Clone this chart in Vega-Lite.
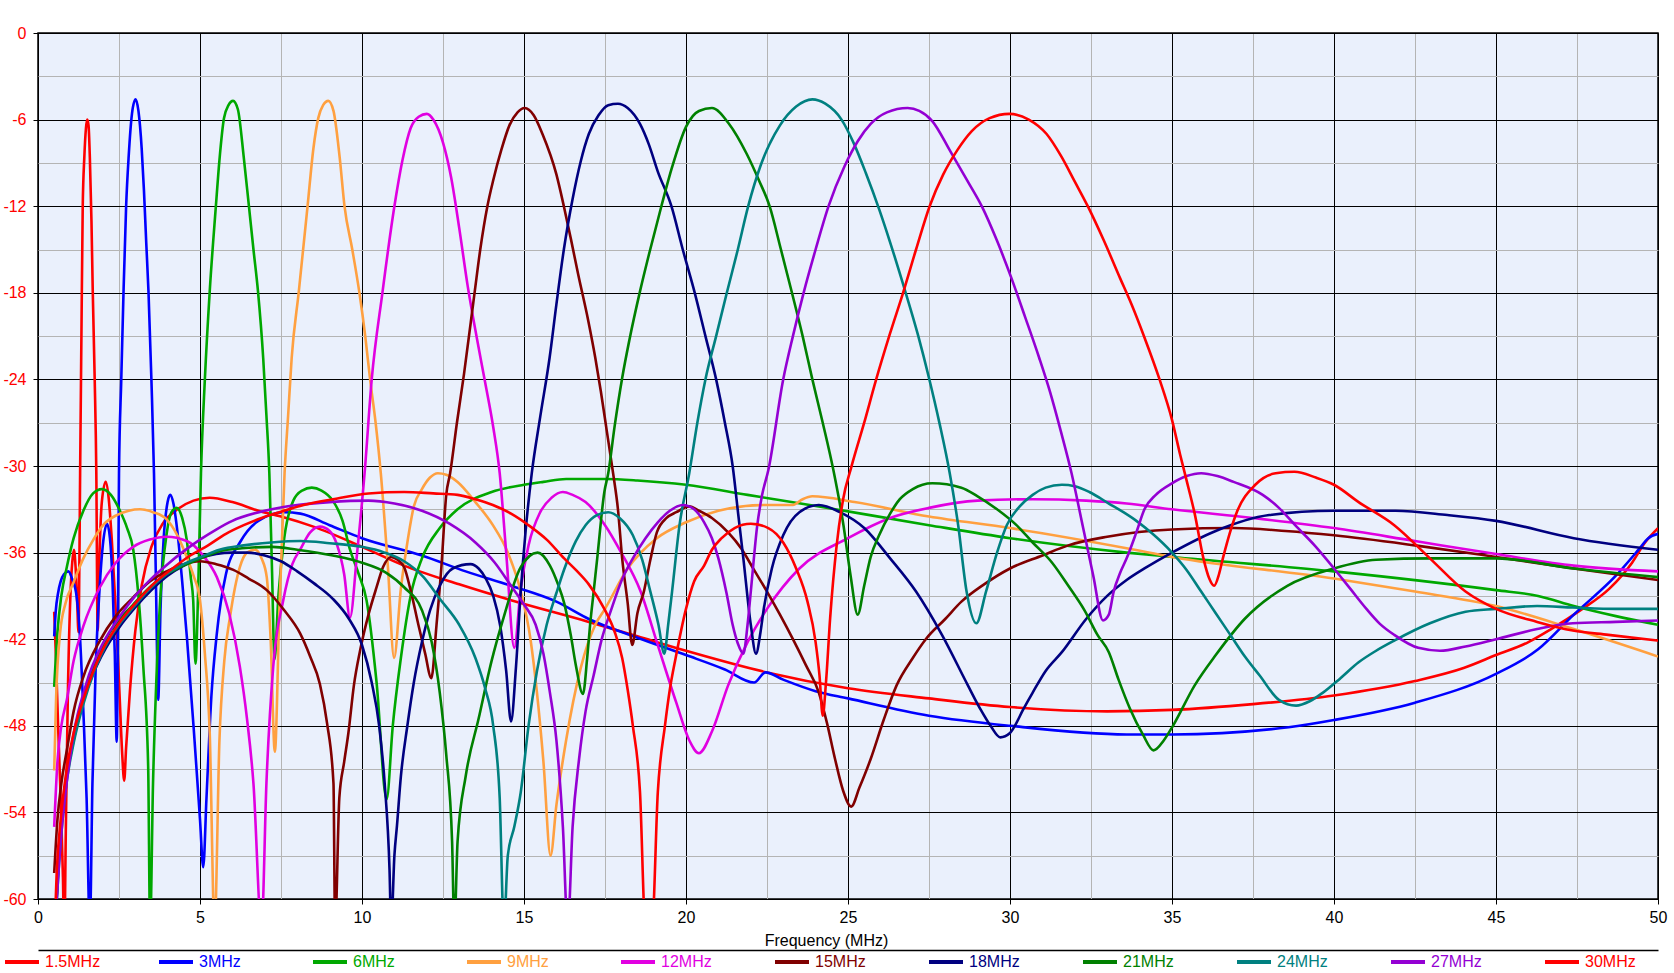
{
"$schema": "https://vega.github.io/schema/vega-lite/v6.json",
"width": 1620,
"height": 866,
"autosize": {"type": "none"},
"padding": {"left": 38, "top": 33, "right": 16, "bottom": 74},
"background": "#ffffff",
"config": {
  "font": "Liberation Sans",
  "view": {"fill": "#eaf0fc", "stroke": "#000000", "strokeWidth": 1.5},
  "axis": {"labelFont": "Liberation Sans", "labelFontSize": 16, "titleFont": "Liberation Sans", "titleFontSize": 16, "titleFontWeight": "normal", "domain": false, "labelFlush": false, "labelOverlap": false}
},
"data": {"values": [
{"s":"1.5MHz","f":0.5,"db":-40.1},{"s":"1.5MHz","f":0.55,"db":-43},{"s":"1.5MHz","f":0.62,"db":-48},{"s":"1.5MHz","f":0.7,"db":-53},{"s":"1.5MHz","f":0.77,"db":-58.5},{"s":"1.5MHz","f":0.81,"db":-63},{"s":"1.5MHz","f":0.86,"db":-55},{"s":"1.5MHz","f":0.92,"db":-46},{"s":"1.5MHz","f":1.0,"db":-39},{"s":"1.5MHz","f":1.06,"db":-36.6},{"s":"1.5MHz","f":1.11,"db":-35.8},{"s":"1.5MHz","f":1.16,"db":-37},{"s":"1.5MHz","f":1.21,"db":-39.5},{"s":"1.5MHz","f":1.25,"db":-41.5},{"s":"1.5MHz","f":1.28,"db":-36},{"s":"1.5MHz","f":1.3,"db":-30.5},{"s":"1.5MHz","f":1.34,"db":-21},{"s":"1.5MHz","f":1.38,"db":-12.1},{"s":"1.5MHz","f":1.43,"db":-8.6},{"s":"1.5MHz","f":1.48,"db":-6.6},{"s":"1.5MHz","f":1.52,"db":-6.0},{"s":"1.5MHz","f":1.56,"db":-6.4},{"s":"1.5MHz","f":1.6,"db":-8.6},{"s":"1.5MHz","f":1.65,"db":-13},{"s":"1.5MHz","f":1.69,"db":-17.9},{"s":"1.5MHz","f":1.75,"db":-24},{"s":"1.5MHz","f":1.8,"db":-30.5},{"s":"1.5MHz","f":1.84,"db":-41.4},{"s":"1.5MHz","f":1.9,"db":-36},{"s":"1.5MHz","f":1.97,"db":-32.5},{"s":"1.5MHz","f":2.09,"db":-31.1},{"s":"1.5MHz","f":2.18,"db":-32.2},{"s":"1.5MHz","f":2.28,"db":-35.2},{"s":"1.5MHz","f":2.4,"db":-40},{"s":"1.5MHz","f":2.52,"db":-46},{"s":"1.5MHz","f":2.6,"db":-50},{"s":"1.5MHz","f":2.66,"db":-51.8},{"s":"1.5MHz","f":2.72,"db":-49.5},{"s":"1.5MHz","f":2.84,"db":-45.5},{"s":"1.5MHz","f":3.0,"db":-41.5},{"s":"1.5MHz","f":3.2,"db":-38.3},{"s":"1.5MHz","f":3.5,"db":-35.6},{"s":"1.5MHz","f":3.85,"db":-34},{"s":"1.5MHz","f":4.3,"db":-33},{"s":"1.5MHz","f":4.8,"db":-32.4},{"s":"1.5MHz","f":5.3,"db":-32.2},{"s":"1.5MHz","f":6.0,"db":-32.5},{"s":"1.5MHz","f":6.8,"db":-33.1},{"s":"1.5MHz","f":7.5,"db":-33.5},{"s":"1.5MHz","f":8.5,"db":-34.2},{"s":"1.5MHz","f":10,"db":-35.6},{"s":"1.5MHz","f":11.3,"db":-36.9},{"s":"1.5MHz","f":13,"db":-38.2},{"s":"1.5MHz","f":14.6,"db":-39.3},{"s":"1.5MHz","f":17,"db":-40.8},{"s":"1.5MHz","f":18.5,"db":-41.8},{"s":"1.5MHz","f":20,"db":-42.8},{"s":"1.5MHz","f":22.5,"db":-44.3},{"s":"1.5MHz","f":25,"db":-45.4},{"s":"1.5MHz","f":27.5,"db":-46.1},{"s":"1.5MHz","f":30,"db":-46.7},{"s":"1.5MHz","f":33,"db":-47},{"s":"1.5MHz","f":35,"db":-46.9},{"s":"1.5MHz","f":37.5,"db":-46.5},{"s":"1.5MHz","f":40,"db":-45.9},{"s":"1.5MHz","f":42.5,"db":-44.9},{"s":"1.5MHz","f":44,"db":-44},{"s":"1.5MHz","f":45,"db":-43.1},{"s":"1.5MHz","f":46,"db":-42.2},{"s":"1.5MHz","f":46.7,"db":-41.3},{"s":"1.5MHz","f":47.6,"db":-40},{"s":"1.5MHz","f":48.5,"db":-38.5},{"s":"1.5MHz","f":49.2,"db":-36.7},{"s":"1.5MHz","f":49.6,"db":-35.3},{"s":"1.5MHz","f":50,"db":-34.3},
{"s":"3MHz","f":0.5,"db":-41.8},{"s":"3MHz","f":0.55,"db":-40},{"s":"3MHz","f":0.62,"db":-38.8},{"s":"3MHz","f":0.7,"db":-38},{"s":"3MHz","f":0.8,"db":-37.5},{"s":"3MHz","f":0.94,"db":-37.3},{"s":"3MHz","f":1.05,"db":-37.8},{"s":"3MHz","f":1.19,"db":-39},{"s":"3MHz","f":1.3,"db":-42},{"s":"3MHz","f":1.4,"db":-47},{"s":"3MHz","f":1.5,"db":-53},{"s":"3MHz","f":1.6,"db":-62},{"s":"3MHz","f":1.68,"db":-52},{"s":"3MHz","f":1.78,"db":-44},{"s":"3MHz","f":1.9,"db":-38.5},{"s":"3MHz","f":2.0,"db":-35.5},{"s":"3MHz","f":2.13,"db":-34},{"s":"3MHz","f":2.22,"db":-35},{"s":"3MHz","f":2.3,"db":-38},{"s":"3MHz","f":2.37,"db":-43},{"s":"3MHz","f":2.43,"db":-49.1},{"s":"3MHz","f":2.47,"db":-40},{"s":"3MHz","f":2.5,"db":-30.5},{"s":"3MHz","f":2.57,"db":-24},{"s":"3MHz","f":2.64,"db":-17.9},{"s":"3MHz","f":2.72,"db":-12},{"s":"3MHz","f":2.8,"db":-8.5},{"s":"3MHz","f":2.9,"db":-5.6},{"s":"3MHz","f":3.01,"db":-4.6},{"s":"3MHz","f":3.1,"db":-5.4},{"s":"3MHz","f":3.2,"db":-8},{"s":"3MHz","f":3.27,"db":-10.9},{"s":"3MHz","f":3.34,"db":-14.5},{"s":"3MHz","f":3.41,"db":-17.9},{"s":"3MHz","f":3.5,"db":-24},{"s":"3MHz","f":3.58,"db":-30.5},{"s":"3MHz","f":3.64,"db":-38},{"s":"3MHz","f":3.71,"db":-46.2},{"s":"3MHz","f":3.78,"db":-40},{"s":"3MHz","f":3.88,"db":-35},{"s":"3MHz","f":4.0,"db":-32.5},{"s":"3MHz","f":4.08,"db":-32},{"s":"3MHz","f":4.18,"db":-32.6},{"s":"3MHz","f":4.3,"db":-34.5},{"s":"3MHz","f":4.45,"db":-38},{"s":"3MHz","f":4.6,"db":-42},{"s":"3MHz","f":4.8,"db":-48},{"s":"3MHz","f":5.0,"db":-54.5},{"s":"3MHz","f":5.1,"db":-57.8},{"s":"3MHz","f":5.2,"db":-53},{"s":"3MHz","f":5.35,"db":-46},{"s":"3MHz","f":5.52,"db":-41.6},{"s":"3MHz","f":5.8,"db":-37.5},{"s":"3MHz","f":6.23,"db":-35.3},{"s":"3MHz","f":6.8,"db":-33.8},{"s":"3MHz","f":7.6,"db":-33.2},{"s":"3MHz","f":8.1,"db":-33.3},{"s":"3MHz","f":9,"db":-34.1},{"s":"3MHz","f":10,"db":-35},{"s":"3MHz","f":11.85,"db":-36.2},{"s":"3MHz","f":13.2,"db":-37.3},{"s":"3MHz","f":14.6,"db":-38.3},{"s":"3MHz","f":16,"db":-39.4},{"s":"3MHz","f":17,"db":-40.6},{"s":"3MHz","f":18.5,"db":-41.9},{"s":"3MHz","f":20,"db":-43.1},{"s":"3MHz","f":21.2,"db":-44.1},{"s":"3MHz","f":22.1,"db":-45},{"s":"3MHz","f":22.45,"db":-44.3},{"s":"3MHz","f":23,"db":-44.8},{"s":"3MHz","f":24,"db":-45.6},{"s":"3MHz","f":25,"db":-46.1},{"s":"3MHz","f":27.5,"db":-47.3},{"s":"3MHz","f":30,"db":-48},{"s":"3MHz","f":33.6,"db":-48.6},{"s":"3MHz","f":35,"db":-48.6},{"s":"3MHz","f":38.6,"db":-48.1},{"s":"3MHz","f":40,"db":-47.6},{"s":"3MHz","f":42.5,"db":-46.4},{"s":"3MHz","f":45,"db":-44.4},{"s":"3MHz","f":46.3,"db":-42.7},{"s":"3MHz","f":47.4,"db":-40.3},{"s":"3MHz","f":48.7,"db":-37.6},{"s":"3MHz","f":49.4,"db":-35.8},{"s":"3MHz","f":49.7,"db":-35},{"s":"3MHz","f":50,"db":-34.7},
{"s":"6MHz","f":0.5,"db":-45.3},{"s":"6MHz","f":0.6,"db":-41.5},{"s":"6MHz","f":0.72,"db":-39},{"s":"6MHz","f":0.89,"db":-37},{"s":"6MHz","f":1.1,"db":-35},{"s":"6MHz","f":1.4,"db":-33.1},{"s":"6MHz","f":1.7,"db":-31.9},{"s":"6MHz","f":1.97,"db":-31.6},{"s":"6MHz","f":2.25,"db":-32},{"s":"6MHz","f":2.53,"db":-33.1},{"s":"6MHz","f":2.75,"db":-34.3},{"s":"6MHz","f":2.94,"db":-35.8},{"s":"6MHz","f":3.1,"db":-39},{"s":"6MHz","f":3.25,"db":-43.9},{"s":"6MHz","f":3.4,"db":-50.8},{"s":"6MHz","f":3.46,"db":-62},{"s":"6MHz","f":3.55,"db":-52},{"s":"6MHz","f":3.65,"db":-45},{"s":"6MHz","f":3.77,"db":-39.3},{"s":"6MHz","f":3.97,"db":-34.7},{"s":"6MHz","f":4.12,"db":-33.2},{"s":"6MHz","f":4.28,"db":-32.9},{"s":"6MHz","f":4.45,"db":-33.6},{"s":"6MHz","f":4.59,"db":-35.1},{"s":"6MHz","f":4.72,"db":-37.8},{"s":"6MHz","f":4.79,"db":-39.3},{"s":"6MHz","f":4.86,"db":-43.7},{"s":"6MHz","f":4.95,"db":-38},{"s":"6MHz","f":5.03,"db":-30.5},{"s":"6MHz","f":5.15,"db":-24},{"s":"6MHz","f":5.3,"db":-17.9},{"s":"6MHz","f":5.49,"db":-12},{"s":"6MHz","f":5.6,"db":-8.8},{"s":"6MHz","f":5.74,"db":-5.9},{"s":"6MHz","f":5.88,"db":-5},{"s":"6MHz","f":6.02,"db":-4.7},{"s":"6MHz","f":6.17,"db":-5.3},{"s":"6MHz","f":6.35,"db":-8.6},{"s":"6MHz","f":6.51,"db":-12},{"s":"6MHz","f":6.65,"db":-15},{"s":"6MHz","f":6.79,"db":-17.9},{"s":"6MHz","f":6.95,"db":-22.5},{"s":"6MHz","f":7.05,"db":-26.5},{"s":"6MHz","f":7.14,"db":-30.5},{"s":"6MHz","f":7.22,"db":-37},{"s":"6MHz","f":7.3,"db":-43.4},{"s":"6MHz","f":7.42,"db":-39},{"s":"6MHz","f":7.6,"db":-35},{"s":"6MHz","f":7.88,"db":-32.4},{"s":"6MHz","f":8.15,"db":-31.7},{"s":"6MHz","f":8.45,"db":-31.5},{"s":"6MHz","f":8.75,"db":-31.7},{"s":"6MHz","f":9.1,"db":-32.4},{"s":"6MHz","f":9.4,"db":-33.8},{"s":"6MHz","f":9.63,"db":-35.8},{"s":"6MHz","f":9.9,"db":-37.5},{"s":"6MHz","f":10.14,"db":-39.3},{"s":"6MHz","f":10.45,"db":-45},{"s":"6MHz","f":10.76,"db":-53.1},{"s":"6MHz","f":10.95,"db":-48},{"s":"6MHz","f":11.2,"db":-43.3},{"s":"6MHz","f":11.5,"db":-39},{"s":"6MHz","f":11.85,"db":-36.4},{"s":"6MHz","f":12.4,"db":-34.3},{"s":"6MHz","f":12.95,"db":-33},{"s":"6MHz","f":14,"db":-31.8},{"s":"6MHz","f":15,"db":-31.3},{"s":"6MHz","f":15.6,"db":-31.1},{"s":"6MHz","f":16.3,"db":-30.9},{"s":"6MHz","f":17.5,"db":-30.9},{"s":"6MHz","f":18.5,"db":-31.0},{"s":"6MHz","f":20,"db":-31.3},{"s":"6MHz","f":21.9,"db":-32},{"s":"6MHz","f":24.1,"db":-32.8},{"s":"6MHz","f":27.5,"db":-34.1},{"s":"6MHz","f":30,"db":-35},{"s":"6MHz","f":33.6,"db":-36},{"s":"6MHz","f":35,"db":-36.3},{"s":"6MHz","f":40,"db":-37.3},{"s":"6MHz","f":45,"db":-38.6},{"s":"6MHz","f":46.3,"db":-39},{"s":"6MHz","f":47.4,"db":-39.7},{"s":"6MHz","f":48.7,"db":-40.4},{"s":"6MHz","f":50,"db":-41},
{"s":"9MHz","f":0.5,"db":-51.1},{"s":"9MHz","f":0.56,"db":-46},{"s":"9MHz","f":0.68,"db":-41.6},{"s":"9MHz","f":0.85,"db":-39.5},{"s":"9MHz","f":1.09,"db":-38.1},{"s":"9MHz","f":1.4,"db":-36.4},{"s":"9MHz","f":1.71,"db":-35.1},{"s":"9MHz","f":2.05,"db":-34},{"s":"9MHz","f":2.43,"db":-33.4},{"s":"9MHz","f":2.8,"db":-33.1},{"s":"9MHz","f":3.15,"db":-33},{"s":"9MHz","f":3.55,"db":-33.2},{"s":"9MHz","f":3.97,"db":-33.7},{"s":"9MHz","f":4.3,"db":-34.8},{"s":"9MHz","f":4.59,"db":-36.3},{"s":"9MHz","f":4.8,"db":-37.6},{"s":"9MHz","f":5.0,"db":-39.3},{"s":"9MHz","f":5.15,"db":-43},{"s":"9MHz","f":5.3,"db":-48.5},{"s":"9MHz","f":5.45,"db":-62},{"s":"9MHz","f":5.6,"db":-49},{"s":"9MHz","f":5.75,"db":-43.5},{"s":"9MHz","f":5.93,"db":-40.4},{"s":"9MHz","f":6.23,"db":-37},{"s":"9MHz","f":6.45,"db":-36},{"s":"9MHz","f":6.7,"db":-35.8},{"s":"9MHz","f":6.9,"db":-36.4},{"s":"9MHz","f":7.06,"db":-37.7},{"s":"9MHz","f":7.18,"db":-42},{"s":"9MHz","f":7.31,"db":-49.8},{"s":"9MHz","f":7.45,"db":-40},{"s":"9MHz","f":7.61,"db":-30.5},{"s":"9MHz","f":7.72,"db":-26.5},{"s":"9MHz","f":7.83,"db":-22.5},{"s":"9MHz","f":8.05,"db":-17.9},{"s":"9MHz","f":8.32,"db":-12},{"s":"9MHz","f":8.5,"db":-8},{"s":"9MHz","f":8.65,"db":-5.9},{"s":"9MHz","f":8.8,"db":-5},{"s":"9MHz","f":8.96,"db":-4.7},{"s":"9MHz","f":9.12,"db":-5.4},{"s":"9MHz","f":9.31,"db":-8.6},{"s":"9MHz","f":9.46,"db":-12},{"s":"9MHz","f":9.7,"db":-15},{"s":"9MHz","f":9.92,"db":-18},{"s":"9MHz","f":10.1,"db":-21},{"s":"9MHz","f":10.25,"db":-24},{"s":"9MHz","f":10.42,"db":-27},{"s":"9MHz","f":10.58,"db":-30.5},{"s":"9MHz","f":10.8,"db":-37},{"s":"9MHz","f":10.99,"db":-43.3},{"s":"9MHz","f":11.2,"db":-38.5},{"s":"9MHz","f":11.4,"db":-35.3},{"s":"9MHz","f":11.6,"db":-32.8},{"s":"9MHz","f":11.85,"db":-31.6},{"s":"9MHz","f":12.1,"db":-30.8},{"s":"9MHz","f":12.34,"db":-30.5},{"s":"9MHz","f":12.6,"db":-30.6},{"s":"9MHz","f":12.95,"db":-31.1},{"s":"9MHz","f":13.5,"db":-32.5},{"s":"9MHz","f":14.04,"db":-34.1},{"s":"9MHz","f":14.5,"db":-36},{"s":"9MHz","f":14.9,"db":-38.7},{"s":"9MHz","f":15.2,"db":-42},{"s":"9MHz","f":15.4,"db":-45.7},{"s":"9MHz","f":15.6,"db":-50.5},{"s":"9MHz","f":15.82,"db":-57},{"s":"9MHz","f":16.0,"db":-53.5},{"s":"9MHz","f":16.3,"db":-49},{"s":"9MHz","f":16.75,"db":-44},{"s":"9MHz","f":17.2,"db":-41},{"s":"9MHz","f":17.5,"db":-39.9},{"s":"9MHz","f":18.2,"db":-37.1},{"s":"9MHz","f":19.1,"db":-35},{"s":"9MHz","f":20,"db":-33.9},{"s":"9MHz","f":21,"db":-33.1},{"s":"9MHz","f":22.4,"db":-32.7},{"s":"9MHz","f":23.3,"db":-32.7},{"s":"9MHz","f":23.6,"db":-32.3},{"s":"9MHz","f":23.9,"db":-32.1},{"s":"9MHz","f":25.2,"db":-32.5},{"s":"9MHz","f":27.5,"db":-33.5},{"s":"9MHz","f":30,"db":-34.3},{"s":"9MHz","f":33.6,"db":-35.7},{"s":"9MHz","f":35,"db":-36.3},{"s":"9MHz","f":40,"db":-37.8},{"s":"9MHz","f":42.5,"db":-38.7},{"s":"9MHz","f":45,"db":-39.7},{"s":"9MHz","f":47.4,"db":-41.3},{"s":"9MHz","f":50,"db":-43.2},
{"s":"12MHz","f":0.5,"db":-55},{"s":"12MHz","f":0.6,"db":-50.5},{"s":"12MHz","f":0.72,"db":-48},{"s":"12MHz","f":0.89,"db":-46.2},{"s":"12MHz","f":1.1,"db":-43.5},{"s":"12MHz","f":1.4,"db":-41.1},{"s":"12MHz","f":1.91,"db":-38.4},{"s":"12MHz","f":2.4,"db":-36.7},{"s":"12MHz","f":2.94,"db":-35.6},{"s":"12MHz","f":3.45,"db":-35.1},{"s":"12MHz","f":3.97,"db":-34.9},{"s":"12MHz","f":4.59,"db":-35.2},{"s":"12MHz","f":5.1,"db":-36.2},{"s":"12MHz","f":5.52,"db":-37.7},{"s":"12MHz","f":5.9,"db":-40.2},{"s":"12MHz","f":6.23,"db":-43.9},{"s":"12MHz","f":6.45,"db":-47.5},{"s":"12MHz","f":6.65,"db":-52},{"s":"12MHz","f":6.9,"db":-62},{"s":"12MHz","f":7.05,"db":-52},{"s":"12MHz","f":7.26,"db":-43.9},{"s":"12MHz","f":7.57,"db":-39.3},{"s":"12MHz","f":7.85,"db":-36.8},{"s":"12MHz","f":8.09,"db":-35.8},{"s":"12MHz","f":8.4,"db":-34.6},{"s":"12MHz","f":8.7,"db":-34.2},{"s":"12MHz","f":9.0,"db":-34.5},{"s":"12MHz","f":9.22,"db":-35.4},{"s":"12MHz","f":9.45,"db":-37.5},{"s":"12MHz","f":9.63,"db":-40.5},{"s":"12MHz","f":9.85,"db":-36},{"s":"12MHz","f":10.08,"db":-30.5},{"s":"12MHz","f":10.3,"db":-24},{"s":"12MHz","f":10.63,"db":-18},{"s":"12MHz","f":11.0,"db":-12},{"s":"12MHz","f":11.25,"db":-8.8},{"s":"12MHz","f":11.5,"db":-6.6},{"s":"12MHz","f":11.75,"db":-5.8},{"s":"12MHz","f":12.0,"db":-5.6},{"s":"12MHz","f":12.2,"db":-6},{"s":"12MHz","f":12.5,"db":-7.6},{"s":"12MHz","f":12.75,"db":-10},{"s":"12MHz","f":13.0,"db":-13.5},{"s":"12MHz","f":13.26,"db":-17.5},{"s":"12MHz","f":13.55,"db":-21.2},{"s":"12MHz","f":13.8,"db":-24.2},{"s":"12MHz","f":14.05,"db":-27.3},{"s":"12MHz","f":14.25,"db":-30.5},{"s":"12MHz","f":14.45,"db":-36},{"s":"12MHz","f":14.7,"db":-42.6},{"s":"12MHz","f":14.9,"db":-38.5},{"s":"12MHz","f":15.14,"db":-35.5},{"s":"12MHz","f":15.5,"db":-33.2},{"s":"12MHz","f":15.85,"db":-32.2},{"s":"12MHz","f":16.2,"db":-31.8},{"s":"12MHz","f":16.5,"db":-32},{"s":"12MHz","f":16.9,"db":-32.5},{"s":"12MHz","f":17.5,"db":-34.1},{"s":"12MHz","f":18,"db":-36},{"s":"12MHz","f":18.6,"db":-38.7},{"s":"12MHz","f":19.1,"db":-42.2},{"s":"12MHz","f":19.7,"db":-46.4},{"s":"12MHz","f":20.1,"db":-49},{"s":"12MHz","f":20.4,"db":-49.9},{"s":"12MHz","f":20.8,"db":-48.4},{"s":"12MHz","f":21.3,"db":-45.2},{"s":"12MHz","f":21.9,"db":-42.2},{"s":"12MHz","f":22.5,"db":-39.9},{"s":"12MHz","f":23.5,"db":-37.1},{"s":"12MHz","f":25,"db":-35},{"s":"12MHz","f":26.3,"db":-33.6},{"s":"12MHz","f":27.5,"db":-32.9},{"s":"12MHz","f":29,"db":-32.4},{"s":"12MHz","f":30.7,"db":-32.3},{"s":"12MHz","f":32.35,"db":-32.4},{"s":"12MHz","f":33.6,"db":-32.6},{"s":"12MHz","f":35,"db":-33},{"s":"12MHz","f":37.5,"db":-33.6},{"s":"12MHz","f":40,"db":-34.3},{"s":"12MHz","f":42.5,"db":-35.2},{"s":"12MHz","f":45,"db":-36.1},{"s":"12MHz","f":47.4,"db":-36.9},{"s":"12MHz","f":50,"db":-37.3},
{"s":"15MHz","f":0.5,"db":-58.2},{"s":"15MHz","f":0.6,"db":-54.5},{"s":"15MHz","f":0.72,"db":-52},{"s":"15MHz","f":0.89,"db":-49.7},{"s":"15MHz","f":1.1,"db":-47},{"s":"15MHz","f":1.4,"db":-44.6},{"s":"15MHz","f":1.91,"db":-42.1},{"s":"15MHz","f":2.4,"db":-40.4},{"s":"15MHz","f":2.94,"db":-39.1},{"s":"15MHz","f":3.45,"db":-38},{"s":"15MHz","f":3.97,"db":-37.3},{"s":"15MHz","f":4.5,"db":-36.8},{"s":"15MHz","f":5.0,"db":-36.6},{"s":"15MHz","f":5.5,"db":-36.8},{"s":"15MHz","f":6.03,"db":-37.2},{"s":"15MHz","f":6.5,"db":-37.8},{"s":"15MHz","f":7.06,"db":-38.6},{"s":"15MHz","f":7.6,"db":-40},{"s":"15MHz","f":8.09,"db":-41.6},{"s":"15MHz","f":8.4,"db":-43.2},{"s":"15MHz","f":8.7,"db":-45.1},{"s":"15MHz","f":8.92,"db":-47.8},{"s":"15MHz","f":9.12,"db":-52},{"s":"15MHz","f":9.17,"db":-62},{"s":"15MHz","f":9.3,"db":-53},{"s":"15MHz","f":9.45,"db":-50.5},{"s":"15MHz","f":9.58,"db":-48.5},{"s":"15MHz","f":9.75,"db":-45.2},{"s":"15MHz","f":9.94,"db":-42.8},{"s":"15MHz","f":10.2,"db":-40.3},{"s":"15MHz","f":10.45,"db":-38.4},{"s":"15MHz","f":10.65,"db":-37},{"s":"15MHz","f":10.9,"db":-36.3},{"s":"15MHz","f":11.1,"db":-36.5},{"s":"15MHz","f":11.3,"db":-37},{"s":"15MHz","f":11.5,"db":-38.6},{"s":"15MHz","f":11.74,"db":-41},{"s":"15MHz","f":11.95,"db":-43},{"s":"15MHz","f":12.14,"db":-44.7},{"s":"15MHz","f":12.3,"db":-41},{"s":"15MHz","f":12.45,"db":-37},{"s":"15MHz","f":12.6,"db":-32},{"s":"15MHz","f":12.72,"db":-30.5},{"s":"15MHz","f":12.93,"db":-27},{"s":"15MHz","f":13.15,"db":-23.6},{"s":"15MHz","f":13.48,"db":-17.9},{"s":"15MHz","f":13.65,"db":-15},{"s":"15MHz","f":13.87,"db":-12},{"s":"15MHz","f":14.05,"db":-10.2},{"s":"15MHz","f":14.3,"db":-8.1},{"s":"15MHz","f":14.55,"db":-6.4},{"s":"15MHz","f":14.8,"db":-5.5},{"s":"15MHz","f":15.02,"db":-5.2},{"s":"15MHz","f":15.3,"db":-5.7},{"s":"15MHz","f":15.57,"db":-7},{"s":"15MHz","f":16.0,"db":-9.8},{"s":"15MHz","f":16.23,"db":-12},{"s":"15MHz","f":16.45,"db":-14.3},{"s":"15MHz","f":16.67,"db":-16.7},{"s":"15MHz","f":16.98,"db":-19.9},{"s":"15MHz","f":17.2,"db":-22.5},{"s":"15MHz","f":17.37,"db":-24.8},{"s":"15MHz","f":17.55,"db":-27.5},{"s":"15MHz","f":17.75,"db":-30.5},{"s":"15MHz","f":17.9,"db":-33},{"s":"15MHz","f":18.03,"db":-36.4},{"s":"15MHz","f":18.2,"db":-39.5},{"s":"15MHz","f":18.34,"db":-42.4},{"s":"15MHz","f":18.5,"db":-40.2},{"s":"15MHz","f":18.7,"db":-38.7},{"s":"15MHz","f":18.9,"db":-36.5},{"s":"15MHz","f":19.1,"db":-34.6},{"s":"15MHz","f":19.4,"db":-33.6},{"s":"15MHz","f":19.7,"db":-33.2},{"s":"15MHz","f":20.1,"db":-32.8},{"s":"15MHz","f":20.4,"db":-33.1},{"s":"15MHz","f":20.8,"db":-33.6},{"s":"15MHz","f":21.3,"db":-34.6},{"s":"15MHz","f":21.7,"db":-35.7},{"s":"15MHz","f":22.1,"db":-37.2},{"s":"15MHz","f":22.5,"db":-38.7},{"s":"15MHz","f":22.9,"db":-40.3},{"s":"15MHz","f":23.3,"db":-42},{"s":"15MHz","f":23.7,"db":-43.8},{"s":"15MHz","f":24.1,"db":-45.7},{"s":"15MHz","f":24.35,"db":-47.8},{"s":"15MHz","f":24.6,"db":-50.3},{"s":"15MHz","f":24.85,"db":-52.5},{"s":"15MHz","f":25.1,"db":-53.6},{"s":"15MHz","f":25.35,"db":-52.3},{"s":"15MHz","f":25.7,"db":-50.3},{"s":"15MHz","f":26.1,"db":-47.6},{"s":"15MHz","f":26.5,"db":-45.2},{"s":"15MHz","f":27.0,"db":-43.3},{"s":"15MHz","f":27.4,"db":-42},{"s":"15MHz","f":28,"db":-40.6},{"s":"15MHz","f":28.5,"db":-39.4},{"s":"15MHz","f":29.2,"db":-38.2},{"s":"15MHz","f":30,"db":-37.1},{"s":"15MHz","f":31,"db":-36.2},{"s":"15MHz","f":31.8,"db":-35.5},{"s":"15MHz","f":33,"db":-34.9},{"s":"15MHz","f":35,"db":-34.4},{"s":"15MHz","f":36.9,"db":-34.3},{"s":"15MHz","f":38.5,"db":-34.5},{"s":"15MHz","f":40,"db":-34.8},{"s":"15MHz","f":42.5,"db":-35.5},{"s":"15MHz","f":45,"db":-36.3},{"s":"15MHz","f":47.4,"db":-37.1},{"s":"15MHz","f":50,"db":-37.9},
{"s":"18MHz","f":0.5,"db":-63},{"s":"18MHz","f":0.62,"db":-58},{"s":"18MHz","f":0.8,"db":-53},{"s":"18MHz","f":1.1,"db":-49},{"s":"18MHz","f":1.5,"db":-45.6},{"s":"18MHz","f":2.0,"db":-43},{"s":"18MHz","f":2.5,"db":-41.2},{"s":"18MHz","f":3.0,"db":-39.8},{"s":"18MHz","f":3.5,"db":-38.6},{"s":"18MHz","f":4.0,"db":-37.6},{"s":"18MHz","f":4.5,"db":-36.9},{"s":"18MHz","f":5.0,"db":-36.4},{"s":"18MHz","f":5.5,"db":-36.1},{"s":"18MHz","f":6.0,"db":-36.0},{"s":"18MHz","f":6.46,"db":-36},{"s":"18MHz","f":7.0,"db":-36.2},{"s":"18MHz","f":7.5,"db":-36.6},{"s":"18MHz","f":8.0,"db":-37.3},{"s":"18MHz","f":8.5,"db":-38.1},{"s":"18MHz","f":9.1,"db":-39.2},{"s":"18MHz","f":9.6,"db":-40.6},{"s":"18MHz","f":10.0,"db":-42.4},{"s":"18MHz","f":10.3,"db":-45},{"s":"18MHz","f":10.53,"db":-48},{"s":"18MHz","f":10.7,"db":-52},{"s":"18MHz","f":10.85,"db":-58},{"s":"18MHz","f":10.9,"db":-62},{"s":"18MHz","f":11.0,"db":-57},{"s":"18MHz","f":11.08,"db":-54.9},{"s":"18MHz","f":11.2,"db":-51.5},{"s":"18MHz","f":11.4,"db":-48},{"s":"18MHz","f":11.6,"db":-45},{"s":"18MHz","f":11.85,"db":-42.2},{"s":"18MHz","f":12.1,"db":-40},{"s":"18MHz","f":12.4,"db":-38.3},{"s":"18MHz","f":12.8,"db":-37.1},{"s":"18MHz","f":13.35,"db":-36.8},{"s":"18MHz","f":13.6,"db":-37.1},{"s":"18MHz","f":13.82,"db":-37.8},{"s":"18MHz","f":14.05,"db":-39},{"s":"18MHz","f":14.26,"db":-41},{"s":"18MHz","f":14.45,"db":-44.2},{"s":"18MHz","f":14.6,"db":-47.7},{"s":"18MHz","f":14.75,"db":-44},{"s":"18MHz","f":14.9,"db":-38.7},{"s":"18MHz","f":15.05,"db":-34.5},{"s":"18MHz","f":15.24,"db":-30.5},{"s":"18MHz","f":15.5,"db":-26.6},{"s":"18MHz","f":15.79,"db":-22.5},{"s":"18MHz","f":16.0,"db":-18.8},{"s":"18MHz","f":16.23,"db":-15},{"s":"18MHz","f":16.5,"db":-11.5},{"s":"18MHz","f":16.75,"db":-8.9},{"s":"18MHz","f":17.0,"db":-7.0},{"s":"18MHz","f":17.3,"db":-5.7},{"s":"18MHz","f":17.6,"db":-5.0},{"s":"18MHz","f":17.9,"db":-4.9},{"s":"18MHz","f":18.2,"db":-5.2},{"s":"18MHz","f":18.58,"db":-6.3},{"s":"18MHz","f":18.85,"db":-7.7},{"s":"18MHz","f":19.13,"db":-9.6},{"s":"18MHz","f":19.55,"db":-12},{"s":"18MHz","f":19.9,"db":-15},{"s":"18MHz","f":20.27,"db":-18},{"s":"18MHz","f":20.6,"db":-21},{"s":"18MHz","f":20.93,"db":-24},{"s":"18MHz","f":21.2,"db":-27},{"s":"18MHz","f":21.44,"db":-30},{"s":"18MHz","f":21.62,"db":-33.5},{"s":"18MHz","f":21.77,"db":-36.4},{"s":"18MHz","f":22.0,"db":-41},{"s":"18MHz","f":22.16,"db":-43},{"s":"18MHz","f":22.3,"db":-41.5},{"s":"18MHz","f":22.4,"db":-39.9},{"s":"18MHz","f":22.65,"db":-37.1},{"s":"18MHz","f":23.0,"db":-34.8},{"s":"18MHz","f":23.5,"db":-33.2},{"s":"18MHz","f":24.1,"db":-32.7},{"s":"18MHz","f":24.75,"db":-33.2},{"s":"18MHz","f":25.5,"db":-34.3},{"s":"18MHz","f":26.3,"db":-36.4},{"s":"18MHz","f":27.1,"db":-38.7},{"s":"18MHz","f":27.9,"db":-41.7},{"s":"18MHz","f":28.7,"db":-45.2},{"s":"18MHz","f":29.1,"db":-46.9},{"s":"18MHz","f":29.4,"db":-48},{"s":"18MHz","f":29.7,"db":-48.8},{"s":"18MHz","f":30.0,"db":-48.5},{"s":"18MHz","f":30.15,"db":-48},{"s":"18MHz","f":30.4,"db":-46.9},{"s":"18MHz","f":30.7,"db":-45.7},{"s":"18MHz","f":31.1,"db":-44.2},{"s":"18MHz","f":31.6,"db":-42.9},{"s":"18MHz","f":32.35,"db":-40.6},{"s":"18MHz","f":33,"db":-39},{"s":"18MHz","f":33.6,"db":-37.9},{"s":"18MHz","f":34.15,"db":-37.1},{"s":"18MHz","f":35,"db":-36},{"s":"18MHz","f":36.35,"db":-34.5},{"s":"18MHz","f":38,"db":-33.4},{"s":"18MHz","f":40,"db":-33.1},{"s":"18MHz","f":41.9,"db":-33.1},{"s":"18MHz","f":43.5,"db":-33.4},{"s":"18MHz","f":45,"db":-33.8},{"s":"18MHz","f":47.4,"db":-35},{"s":"18MHz","f":50,"db":-35.8},
{"s":"21MHz","f":0.5,"db":-63},{"s":"21MHz","f":0.65,"db":-57},{"s":"21MHz","f":0.85,"db":-52},{"s":"21MHz","f":1.1,"db":-48.8},{"s":"21MHz","f":1.4,"db":-46.2},{"s":"21MHz","f":1.74,"db":-43.8},{"s":"21MHz","f":2.2,"db":-41.6},{"s":"21MHz","f":2.94,"db":-39.6},{"s":"21MHz","f":3.5,"db":-38.3},{"s":"21MHz","f":3.97,"db":-37.5},{"s":"21MHz","f":4.5,"db":-36.9},{"s":"21MHz","f":5.03,"db":-36.4},{"s":"21MHz","f":5.6,"db":-35.9},{"s":"21MHz","f":6.3,"db":-35.7},{"s":"21MHz","f":7.23,"db":-35.6},{"s":"21MHz","f":8.0,"db":-35.8},{"s":"21MHz","f":9.1,"db":-36.2},{"s":"21MHz","f":10.0,"db":-36.7},{"s":"21MHz","f":10.75,"db":-37.4},{"s":"21MHz","f":11.3,"db":-38.4},{"s":"21MHz","f":11.85,"db":-40},{"s":"21MHz","f":12.15,"db":-42.2},{"s":"21MHz","f":12.4,"db":-45.7},{"s":"21MHz","f":12.6,"db":-50},{"s":"21MHz","f":12.78,"db":-56},{"s":"21MHz","f":12.85,"db":-62},{"s":"21MHz","f":12.95,"db":-56},{"s":"21MHz","f":13.2,"db":-51.5},{"s":"21MHz","f":13.6,"db":-47.5},{"s":"21MHz","f":14.0,"db":-43.5},{"s":"21MHz","f":14.37,"db":-40.5},{"s":"21MHz","f":14.9,"db":-37},{"s":"21MHz","f":15.42,"db":-36},{"s":"21MHz","f":15.8,"db":-36.9},{"s":"21MHz","f":16.05,"db":-38.2},{"s":"21MHz","f":16.24,"db":-39.5},{"s":"21MHz","f":16.45,"db":-41.8},{"s":"21MHz","f":16.6,"db":-43.8},{"s":"21MHz","f":16.82,"db":-45.8},{"s":"21MHz","f":16.95,"db":-43.3},{"s":"21MHz","f":17.04,"db":-41},{"s":"21MHz","f":17.15,"db":-38.7},{"s":"21MHz","f":17.26,"db":-36.4},{"s":"21MHz","f":17.48,"db":-31.8},{"s":"21MHz","f":17.6,"db":-30.5},{"s":"21MHz","f":17.8,"db":-27.2},{"s":"21MHz","f":18.03,"db":-23.9},{"s":"21MHz","f":18.25,"db":-21.3},{"s":"21MHz","f":18.58,"db":-17.9},{"s":"21MHz","f":18.85,"db":-15.4},{"s":"21MHz","f":19.24,"db":-12},{"s":"21MHz","f":19.57,"db":-9.3},{"s":"21MHz","f":20.0,"db":-6.5},{"s":"21MHz","f":20.4,"db":-5.4},{"s":"21MHz","f":20.8,"db":-5.2},{"s":"21MHz","f":21.33,"db":-6.3},{"s":"21MHz","f":21.88,"db":-8.4},{"s":"21MHz","f":22.25,"db":-10.2},{"s":"21MHz","f":22.58,"db":-12},{"s":"21MHz","f":22.93,"db":-15},{"s":"21MHz","f":23.27,"db":-18},{"s":"21MHz","f":23.6,"db":-21},{"s":"21MHz","f":23.9,"db":-24},{"s":"21MHz","f":24.22,"db":-27},{"s":"21MHz","f":24.55,"db":-30.3},{"s":"21MHz","f":24.86,"db":-34.1},{"s":"21MHz","f":25.08,"db":-37.6},{"s":"21MHz","f":25.3,"db":-40.3},{"s":"21MHz","f":25.5,"db":-38.3},{"s":"21MHz","f":25.7,"db":-36.3},{"s":"21MHz","f":25.96,"db":-34.8},{"s":"21MHz","f":26.3,"db":-33.3},{"s":"21MHz","f":26.6,"db":-32.3},{"s":"21MHz","f":27.0,"db":-31.6},{"s":"21MHz","f":27.6,"db":-31.2},{"s":"21MHz","f":28.5,"db":-31.5},{"s":"21MHz","f":29.0,"db":-32.1},{"s":"21MHz","f":29.6,"db":-33},{"s":"21MHz","f":30.2,"db":-34.1},{"s":"21MHz","f":30.7,"db":-35.3},{"s":"21MHz","f":31.3,"db":-36.7},{"s":"21MHz","f":31.8,"db":-38.3},{"s":"21MHz","f":32.3,"db":-40},{"s":"21MHz","f":32.7,"db":-41.7},{"s":"21MHz","f":33.05,"db":-42.9},{"s":"21MHz","f":33.35,"db":-44.8},{"s":"21MHz","f":33.7,"db":-46.8},{"s":"21MHz","f":34.1,"db":-48.6},{"s":"21MHz","f":34.43,"db":-49.7},{"s":"21MHz","f":34.75,"db":-49},{"s":"21MHz","f":35.03,"db":-48},{"s":"21MHz","f":35.7,"db":-45.2},{"s":"21MHz","f":36.35,"db":-43.1},{"s":"21MHz","f":37.24,"db":-40.6},{"s":"21MHz","f":38.56,"db":-38.3},{"s":"21MHz","f":40,"db":-37.1},{"s":"21MHz","f":41.3,"db":-36.5},{"s":"21MHz","f":43,"db":-36.4},{"s":"21MHz","f":45,"db":-36.4},{"s":"21MHz","f":47.4,"db":-37.1},{"s":"21MHz","f":50,"db":-37.7},
{"s":"24MHz","f":0.5,"db":-63},{"s":"24MHz","f":0.65,"db":-57.5},{"s":"24MHz","f":0.85,"db":-52.5},{"s":"24MHz","f":1.1,"db":-49.2},{"s":"24MHz","f":1.4,"db":-46.5},{"s":"24MHz","f":1.74,"db":-44.2},{"s":"24MHz","f":2.2,"db":-42},{"s":"24MHz","f":2.94,"db":-39.8},{"s":"24MHz","f":3.5,"db":-38.4},{"s":"24MHz","f":3.97,"db":-37.5},{"s":"24MHz","f":4.5,"db":-36.8},{"s":"24MHz","f":5.03,"db":-36.3},{"s":"24MHz","f":5.6,"db":-35.8},{"s":"24MHz","f":6.35,"db":-35.5},{"s":"24MHz","f":7.2,"db":-35.3},{"s":"24MHz","f":8.1,"db":-35.2},{"s":"24MHz","f":9.0,"db":-35.35},{"s":"24MHz","f":10.0,"db":-35.6},{"s":"24MHz","f":10.7,"db":-36},{"s":"24MHz","f":11.3,"db":-36.6},{"s":"24MHz","f":11.9,"db":-37.7},{"s":"24MHz","f":12.4,"db":-39.2},{"s":"24MHz","f":13.0,"db":-41},{"s":"24MHz","f":13.5,"db":-43.3},{"s":"24MHz","f":13.8,"db":-45.4},{"s":"24MHz","f":14.05,"db":-48},{"s":"24MHz","f":14.25,"db":-53},{"s":"24MHz","f":14.38,"db":-62},{"s":"24MHz","f":14.5,"db":-57},{"s":"24MHz","f":14.7,"db":-55},{"s":"24MHz","f":14.9,"db":-52.6},{"s":"24MHz","f":15.14,"db":-48},{"s":"24MHz","f":15.4,"db":-44.2},{"s":"24MHz","f":15.7,"db":-41},{"s":"24MHz","f":16.0,"db":-38.8},{"s":"24MHz","f":16.25,"db":-37.1},{"s":"24MHz","f":16.6,"db":-35.2},{"s":"24MHz","f":16.9,"db":-34.1},{"s":"24MHz","f":17.25,"db":-33.4},{"s":"24MHz","f":17.6,"db":-33.2},{"s":"24MHz","f":17.95,"db":-33.6},{"s":"24MHz","f":18.36,"db":-34.8},{"s":"24MHz","f":18.65,"db":-36.5},{"s":"24MHz","f":18.9,"db":-38.7},{"s":"24MHz","f":19.15,"db":-41},{"s":"24MHz","f":19.33,"db":-43},{"s":"24MHz","f":19.45,"db":-41},{"s":"24MHz","f":19.57,"db":-38.7},{"s":"24MHz","f":19.8,"db":-34.1},{"s":"24MHz","f":20.1,"db":-30.5},{"s":"24MHz","f":20.35,"db":-27},{"s":"24MHz","f":20.6,"db":-24},{"s":"24MHz","f":20.93,"db":-21},{"s":"24MHz","f":21.26,"db":-18},{"s":"24MHz","f":21.6,"db":-15},{"s":"24MHz","f":21.92,"db":-12},{"s":"24MHz","f":22.3,"db":-9.2},{"s":"24MHz","f":22.9,"db":-6.4},{"s":"24MHz","f":23.4,"db":-5.1},{"s":"24MHz","f":23.9,"db":-4.6},{"s":"24MHz","f":24.3,"db":-4.9},{"s":"24MHz","f":24.8,"db":-6},{"s":"24MHz","f":25.19,"db":-7.7},{"s":"24MHz","f":25.55,"db":-9.7},{"s":"24MHz","f":25.96,"db":-12.2},{"s":"24MHz","f":26.3,"db":-14.5},{"s":"24MHz","f":26.7,"db":-17.4},{"s":"24MHz","f":27.17,"db":-21},{"s":"24MHz","f":27.5,"db":-23.9},{"s":"24MHz","f":27.83,"db":-27.1},{"s":"24MHz","f":28.14,"db":-30.5},{"s":"24MHz","f":28.4,"db":-34.1},{"s":"24MHz","f":28.66,"db":-38.7},{"s":"24MHz","f":28.96,"db":-40.9},{"s":"24MHz","f":29.26,"db":-38.7},{"s":"24MHz","f":29.6,"db":-36},{"s":"24MHz","f":29.9,"db":-34.1},{"s":"24MHz","f":30.3,"db":-32.8},{"s":"24MHz","f":30.7,"db":-32},{"s":"24MHz","f":31.1,"db":-31.5},{"s":"24MHz","f":31.6,"db":-31.3},{"s":"24MHz","f":32.0,"db":-31.4},{"s":"24MHz","f":32.45,"db":-31.8},{"s":"24MHz","f":33.05,"db":-32.6},{"s":"24MHz","f":33.5,"db":-33.2},{"s":"24MHz","f":33.9,"db":-33.8},{"s":"24MHz","f":34.4,"db":-34.7},{"s":"24MHz","f":35,"db":-36},{"s":"24MHz","f":35.45,"db":-37.2},{"s":"24MHz","f":35.9,"db":-38.7},{"s":"24MHz","f":36.35,"db":-40.2},{"s":"24MHz","f":36.8,"db":-41.7},{"s":"24MHz","f":37.25,"db":-43.2},{"s":"24MHz","f":37.7,"db":-44.5},{"s":"24MHz","f":38.3,"db":-46.2},{"s":"24MHz","f":38.83,"db":-46.6},{"s":"24MHz","f":39.25,"db":-46.3},{"s":"24MHz","f":39.66,"db":-45.7},{"s":"24MHz","f":40.2,"db":-44.7},{"s":"24MHz","f":40.76,"db":-43.6},{"s":"24MHz","f":41.3,"db":-42.8},{"s":"24MHz","f":41.86,"db":-42.1},{"s":"24MHz","f":42.96,"db":-40.9},{"s":"24MHz","f":44.06,"db":-40.1},{"s":"24MHz","f":45,"db":-39.9},{"s":"24MHz","f":46.27,"db":-39.7},{"s":"24MHz","f":47.37,"db":-39.8},{"s":"24MHz","f":48.7,"db":-39.9},{"s":"24MHz","f":50,"db":-39.9},
{"s":"27MHz","f":0.5,"db":-63},{"s":"27MHz","f":0.7,"db":-56},{"s":"27MHz","f":1.0,"db":-50},{"s":"27MHz","f":1.5,"db":-45},{"s":"27MHz","f":2.0,"db":-42.3},{"s":"27MHz","f":2.5,"db":-40.5},{"s":"27MHz","f":3.0,"db":-39},{"s":"27MHz","f":3.5,"db":-37.8},{"s":"27MHz","f":4.0,"db":-36.8},{"s":"27MHz","f":4.5,"db":-35.9},{"s":"27MHz","f":5.0,"db":-35.1},{"s":"27MHz","f":5.5,"db":-34.4},{"s":"27MHz","f":6.0,"db":-33.8},{"s":"27MHz","f":7.0,"db":-33.1},{"s":"27MHz","f":8.0,"db":-32.7},{"s":"27MHz","f":9.0,"db":-32.5},{"s":"27MHz","f":10.2,"db":-32.4},{"s":"27MHz","f":11.0,"db":-32.6},{"s":"27MHz","f":11.85,"db":-33.1},{"s":"27MHz","f":12.7,"db":-34},{"s":"27MHz","f":13.5,"db":-35.3},{"s":"27MHz","f":14.1,"db":-36.7},{"s":"27MHz","f":14.6,"db":-38.3},{"s":"27MHz","f":15.0,"db":-39.6},{"s":"27MHz","f":15.36,"db":-41},{"s":"27MHz","f":15.6,"db":-43},{"s":"27MHz","f":15.8,"db":-45.7},{"s":"27MHz","f":16.0,"db":-49},{"s":"27MHz","f":16.2,"db":-55},{"s":"27MHz","f":16.35,"db":-62},{"s":"27MHz","f":16.5,"db":-55},{"s":"27MHz","f":16.7,"db":-50.3},{"s":"27MHz","f":16.9,"db":-47},{"s":"27MHz","f":17.15,"db":-44.5},{"s":"27MHz","f":17.4,"db":-42},{"s":"27MHz","f":17.7,"db":-39.9},{"s":"27MHz","f":18.0,"db":-38},{"s":"27MHz","f":18.36,"db":-36.4},{"s":"27MHz","f":18.75,"db":-35},{"s":"27MHz","f":19.13,"db":-33.9},{"s":"27MHz","f":19.5,"db":-33.1},{"s":"27MHz","f":19.9,"db":-32.7},{"s":"27MHz","f":20.25,"db":-33},{"s":"27MHz","f":20.56,"db":-33.9},{"s":"27MHz","f":20.8,"db":-35},{"s":"27MHz","f":21.0,"db":-36.4},{"s":"27MHz","f":21.25,"db":-38.8},{"s":"27MHz","f":21.44,"db":-41},{"s":"27MHz","f":21.6,"db":-42.3},{"s":"27MHz","f":21.77,"db":-43},{"s":"27MHz","f":21.9,"db":-41},{"s":"27MHz","f":22.0,"db":-38.7},{"s":"27MHz","f":22.2,"db":-34.1},{"s":"27MHz","f":22.35,"db":-32},{"s":"27MHz","f":22.54,"db":-30.3},{"s":"27MHz","f":23.0,"db":-24},{"s":"27MHz","f":23.3,"db":-21},{"s":"27MHz","f":23.63,"db":-18},{"s":"27MHz","f":24.0,"db":-15},{"s":"27MHz","f":24.4,"db":-12},{"s":"27MHz","f":24.9,"db":-9.2},{"s":"27MHz","f":25.3,"db":-7.5},{"s":"27MHz","f":25.7,"db":-6.3},{"s":"27MHz","f":26.2,"db":-5.5},{"s":"27MHz","f":26.84,"db":-5.2},{"s":"27MHz","f":27.2,"db":-5.4},{"s":"27MHz","f":27.6,"db":-6.1},{"s":"27MHz","f":28.16,"db":-8.2},{"s":"27MHz","f":28.7,"db":-10.3},{"s":"27MHz","f":29.15,"db":-12.1},{"s":"27MHz","f":29.6,"db":-14.4},{"s":"27MHz","f":30.03,"db":-16.9},{"s":"27MHz","f":30.47,"db":-19.7},{"s":"27MHz","f":30.9,"db":-22.5},{"s":"27MHz","f":31.24,"db":-24.9},{"s":"27MHz","f":31.57,"db":-27.6},{"s":"27MHz","f":31.9,"db":-30.5},{"s":"27MHz","f":32.24,"db":-34.1},{"s":"27MHz","f":32.57,"db":-37.6},{"s":"27MHz","f":32.87,"db":-40.7},{"s":"27MHz","f":33.05,"db":-40.3},{"s":"27MHz","f":33.2,"db":-38.7},{"s":"27MHz","f":33.4,"db":-37.4},{"s":"27MHz","f":33.6,"db":-36.4},{"s":"27MHz","f":33.9,"db":-34.6},{"s":"27MHz","f":34.15,"db":-33},{"s":"27MHz","f":34.5,"db":-32},{"s":"27MHz","f":35,"db":-31.2},{"s":"27MHz","f":35.45,"db":-30.7},{"s":"27MHz","f":35.9,"db":-30.5},{"s":"27MHz","f":36.4,"db":-30.7},{"s":"27MHz","f":36.9,"db":-31.1},{"s":"27MHz","f":37.8,"db":-32},{"s":"27MHz","f":38.3,"db":-32.9},{"s":"27MHz","f":38.8,"db":-34.1},{"s":"27MHz","f":39.4,"db":-35.5},{"s":"27MHz","f":40,"db":-37.1},{"s":"27MHz","f":40.5,"db":-38.5},{"s":"27MHz","f":41,"db":-39.9},{"s":"27MHz","f":41.4,"db":-40.9},{"s":"27MHz","f":41.86,"db":-41.7},{"s":"27MHz","f":42.6,"db":-42.6},{"s":"27MHz","f":43.27,"db":-42.8},{"s":"27MHz","f":44.06,"db":-42.5},{"s":"27MHz","f":45,"db":-42},{"s":"27MHz","f":46.27,"db":-41.3},{"s":"27MHz","f":47.37,"db":-40.9},{"s":"27MHz","f":48.7,"db":-40.8},{"s":"27MHz","f":50,"db":-40.7},
{"s":"30MHz","f":0.5,"db":-63},{"s":"30MHz","f":0.58,"db":-58},{"s":"30MHz","f":0.7,"db":-54.5},{"s":"30MHz","f":0.86,"db":-51.4},{"s":"30MHz","f":1.1,"db":-48.5},{"s":"30MHz","f":1.41,"db":-46.1},{"s":"30MHz","f":1.96,"db":-42.9},{"s":"30MHz","f":2.5,"db":-40.9},{"s":"30MHz","f":3.05,"db":-39.4},{"s":"30MHz","f":3.6,"db":-38.1},{"s":"30MHz","f":4.15,"db":-37.1},{"s":"30MHz","f":4.7,"db":-36.2},{"s":"30MHz","f":5.25,"db":-35.5},{"s":"30MHz","f":5.8,"db":-34.7},{"s":"30MHz","f":6.35,"db":-34.1},{"s":"30MHz","f":6.9,"db":-33.6},{"s":"30MHz","f":7.45,"db":-33.2},{"s":"30MHz","f":8.2,"db":-32.7},{"s":"30MHz","f":9.1,"db":-32.3},{"s":"30MHz","f":10.2,"db":-31.9},{"s":"30MHz","f":11.3,"db":-31.8},{"s":"30MHz","f":12.2,"db":-31.9},{"s":"30MHz","f":12.95,"db":-32},{"s":"30MHz","f":13.5,"db":-32.3},{"s":"30MHz","f":14.04,"db":-32.7},{"s":"30MHz","f":14.6,"db":-33.3},{"s":"30MHz","f":15.14,"db":-34.1},{"s":"30MHz","f":15.7,"db":-35.1},{"s":"30MHz","f":16.24,"db":-36.4},{"s":"30MHz","f":16.6,"db":-37.2},{"s":"30MHz","f":17.0,"db":-38.2},{"s":"30MHz","f":17.48,"db":-39.9},{"s":"30MHz","f":17.8,"db":-41.5},{"s":"30MHz","f":18.03,"db":-43.3},{"s":"30MHz","f":18.2,"db":-45.5},{"s":"30MHz","f":18.36,"db":-48},{"s":"30MHz","f":18.58,"db":-52.6},{"s":"30MHz","f":18.75,"db":-62},{"s":"30MHz","f":18.95,"db":-62},{"s":"30MHz","f":19.13,"db":-52.6},{"s":"30MHz","f":19.35,"db":-48},{"s":"30MHz","f":19.5,"db":-45.5},{"s":"30MHz","f":19.68,"db":-43.3},{"s":"30MHz","f":20.0,"db":-39.9},{"s":"30MHz","f":20.25,"db":-38},{"s":"30MHz","f":20.56,"db":-36.9},{"s":"30MHz","f":20.8,"db":-35.8},{"s":"30MHz","f":21.1,"db":-35},{"s":"30MHz","f":21.5,"db":-34.3},{"s":"30MHz","f":22.0,"db":-34},{"s":"30MHz","f":22.54,"db":-34.3},{"s":"30MHz","f":23.0,"db":-35.3},{"s":"30MHz","f":23.4,"db":-37.1},{"s":"30MHz","f":23.75,"db":-39.4},{"s":"30MHz","f":24.0,"db":-42.2},{"s":"30MHz","f":24.12,"db":-44.5},{"s":"30MHz","f":24.22,"db":-47.3},{"s":"30MHz","f":24.32,"db":-45},{"s":"30MHz","f":24.45,"db":-40.5},{"s":"30MHz","f":24.65,"db":-35.5},{"s":"30MHz","f":24.85,"db":-32.3},{"s":"30MHz","f":25.1,"db":-30.1},{"s":"30MHz","f":25.5,"db":-27},{"s":"30MHz","f":25.87,"db":-24},{"s":"30MHz","f":26.3,"db":-20.8},{"s":"30MHz","f":26.7,"db":-18},{"s":"30MHz","f":27.1,"db":-15},{"s":"30MHz","f":27.52,"db":-12},{"s":"30MHz","f":27.94,"db":-9.8},{"s":"30MHz","f":28.38,"db":-8.1},{"s":"30MHz","f":28.82,"db":-6.8},{"s":"30MHz","f":29.37,"db":-5.9},{"s":"30MHz","f":29.98,"db":-5.6},{"s":"30MHz","f":30.58,"db":-6},{"s":"30MHz","f":31.13,"db":-7},{"s":"30MHz","f":31.57,"db":-8.5},{"s":"30MHz","f":32.0,"db":-10.3},{"s":"30MHz","f":32.4,"db":-12},{"s":"30MHz","f":32.9,"db":-14.4},{"s":"30MHz","f":33.4,"db":-17},{"s":"30MHz","f":33.75,"db":-18.8},{"s":"30MHz","f":34.15,"db":-21.1},{"s":"30MHz","f":34.6,"db":-23.9},{"s":"30MHz","f":35.0,"db":-26.8},{"s":"30MHz","f":35.25,"db":-29.2},{"s":"30MHz","f":35.45,"db":-31},{"s":"30MHz","f":35.7,"db":-33.3},{"s":"30MHz","f":35.97,"db":-36.4},{"s":"30MHz","f":36.15,"db":-37.8},{"s":"30MHz","f":36.3,"db":-38.3},{"s":"30MHz","f":36.45,"db":-37.5},{"s":"30MHz","f":36.57,"db":-36.4},{"s":"30MHz","f":37.0,"db":-33.2},{"s":"30MHz","f":37.57,"db":-31.3},{"s":"30MHz","f":38.2,"db":-30.5},{"s":"30MHz","f":38.78,"db":-30.4},{"s":"30MHz","f":39.44,"db":-30.8},{"s":"30MHz","f":40,"db":-31.3},{"s":"30MHz","f":40.76,"db":-32.5},{"s":"30MHz","f":41.86,"db":-34.1},{"s":"30MHz","f":42.96,"db":-36.4},{"s":"30MHz","f":44.06,"db":-38.7},{"s":"30MHz","f":45,"db":-39.9},{"s":"30MHz","f":46.27,"db":-40.8},{"s":"30MHz","f":47.37,"db":-41.4},{"s":"30MHz","f":48.47,"db":-41.7},{"s":"30MHz","f":50,"db":-42.1}
]},
"resolve": {"axis": {"x": "independent"}},
"layer": [
  {
    "mark": {"type": "line", "clip": true, "strokeWidth": 2.6, "strokeJoin": "round", "interpolate": "monotone"},
    "encoding": {
      "x": {"field": "f", "type": "quantitative",
        "scale": {"domain": [0, 50], "nice": false, "zero": false},
        "axis": {
          "orient": "bottom",
          "values": [0,2.5,5,7.5,10,12.5,15,17.5,20,22.5,25,27.5,30,32.5,35,37.5,40,42.5,45,47.5,50],
          "labelExpr": "datum.value % 5 === 0 ? '' + datum.value : ''",
          "labelColor": "#000000",
          "labelPadding": 5,
          "grid": true,
          "gridColor": {"condition": {"test": "datum.value % 5 === 0", "value": "#000000"}, "value": "#b4b4b4"},
          "gridWidth": 1,
          "tickColor": {"condition": {"test": "datum.value % 5 === 0", "value": "#000000"}, "value": "transparent"},
          "tickSize": 5,
          "title": "Frequency (MHz)",
          "titleColor": "#000000",
          "titleX": 788,
          "titleY": 41,
          "titleBaseline": "middle"
        }
      },
      "y": {"field": "db", "type": "quantitative",
        "scale": {"domain": [-60, 0], "nice": false, "zero": false},
        "axis": {
          "values": [0,-3,-6,-9,-12,-15,-18,-21,-24,-27,-30,-33,-36,-39,-42,-45,-48,-51,-54,-57,-60],
          "labelExpr": "datum.value % 6 === 0 ? '' + datum.value : ''",
          "labelColor": "#ff0000",
          "labelPadding": 7,
          "grid": true,
          "gridColor": {"condition": {"test": "datum.value % 6 === 0", "value": "#000000"}, "value": "#b4b4b4"},
          "gridWidth": 1,
          "tickColor": {"condition": {"test": "datum.value % 6 === 0", "value": "#000000"}, "value": "transparent"},
          "tickSize": 5,
          "title": null
        }
      },
      "color": {"field": "s", "type": "nominal",
        "scale": {
          "domain": ["1.5MHz","3MHz","6MHz","9MHz","12MHz","15MHz","18MHz","21MHz","24MHz","27MHz","30MHz"],
          "range": ["#ff0000","#0000ff","#00a800","#ffa040","#e100e1","#800000","#000080","#008000","#008080","#9400d3","#ff0000"]
        },
        "legend": {
          "orient": "none", "legendX": -35, "legendY": 910,
          "direction": "horizontal", "columns": 11, "gridAlign": "all",
          "columnPadding": 50, "padding": 0, "title": null,
          "symbolType": "stroke", "symbolSize": 1156, "symbolStrokeWidth": 4,
          "labelFont": "Liberation Sans", "labelFontSize": 16, "labelOffset": 4,
          "labelColor": {"expr": "scale('color', datum.value)"}
        }
      }
    }
  },
  {
    "mark": {"type": "tick", "opacity": 0},
    "encoding": {
      "x": {"field": "f", "type": "quantitative",
        "axis": {"orient": "bottom", "offset": 51, "domain": true, "domainColor": "#000000", "domainWidth": 1.5, "labels": false, "ticks": false, "grid": false, "title": null}
      }
    }
  }
]
}
